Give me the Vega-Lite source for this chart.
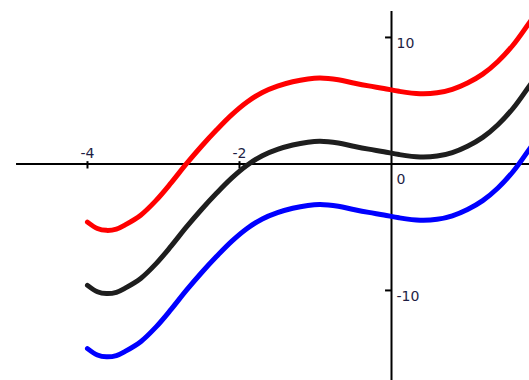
{
  "$schema": "https://vega.github.io/schema/vega-lite/v6.json",
  "width": 529,
  "height": 380,
  "padding": 0,
  "autosize": {"type": "none"},
  "background": "white",
  "config": {"view": {"stroke": null}},
  "datasets": {
    "axes": [
      {"x": -4.94, "x2": 1.85, "y": 0, "y2": 0},
      {"x": 0, "x2": 0, "y": -17.2, "y2": 12.1},
      {"x": -4, "x2": -4, "y": -0.36, "y2": 0.22},
      {"x": -2, "x2": -2, "y": -0.36, "y2": 0.22},
      {"x": -0.085, "x2": 0, "y": 10, "y2": 10},
      {"x": -0.085, "x2": 0, "y": -10, "y2": -10}
    ],
    "xlabels": [
      {"x": -4, "y": 0, "label": "-4"},
      {"x": -2, "y": 0, "label": "-2"}
    ],
    "ylabels": [
      {"x": 0, "y": 10, "label": "10"},
      {"x": 0, "y": -10, "label": "-10"}
    ],
    "zlabel": [
      {"x": 0, "y": 0, "label": "0"}
    ],
    "curves": [
      {"series": "black", "x": -4.0, "y": -9.6},
      {"series": "black", "x": -3.87, "y": -10.1},
      {"series": "black", "x": -3.75, "y": -10.25},
      {"series": "black", "x": -3.62, "y": -10.15},
      {"series": "black", "x": -3.5, "y": -9.8},
      {"series": "black", "x": -3.3, "y": -9.05},
      {"series": "black", "x": -3.1, "y": -7.9},
      {"series": "black", "x": -2.9, "y": -6.5},
      {"series": "black", "x": -2.7, "y": -5.0},
      {"series": "black", "x": -2.5, "y": -3.6},
      {"series": "black", "x": -2.3, "y": -2.3},
      {"series": "black", "x": -2.1, "y": -1.1},
      {"series": "black", "x": -1.9, "y": -0.1},
      {"series": "black", "x": -1.7, "y": 0.65},
      {"series": "black", "x": -1.5, "y": 1.15},
      {"series": "black", "x": -1.3, "y": 1.5},
      {"series": "black", "x": -1.1, "y": 1.72},
      {"series": "black", "x": -0.94, "y": 1.79},
      {"series": "black", "x": -0.7, "y": 1.65},
      {"series": "black", "x": -0.5, "y": 1.4},
      {"series": "black", "x": -0.3, "y": 1.17},
      {"series": "black", "x": -0.1, "y": 0.97},
      {"series": "black", "x": 0.1, "y": 0.74},
      {"series": "black", "x": 0.375, "y": 0.55},
      {"series": "black", "x": 0.6, "y": 0.62},
      {"series": "black", "x": 0.8, "y": 0.9},
      {"series": "black", "x": 1.0, "y": 1.4},
      {"series": "black", "x": 1.2, "y": 2.1},
      {"series": "black", "x": 1.4, "y": 3.1},
      {"series": "black", "x": 1.6, "y": 4.4},
      {"series": "black", "x": 1.8, "y": 6.05},
      {"series": "black", "x": 1.9, "y": 6.9},
      {"series": "red", "x": -4.0, "y": -4.6},
      {"series": "red", "x": -3.87, "y": -5.1},
      {"series": "red", "x": -3.75, "y": -5.25},
      {"series": "red", "x": -3.62, "y": -5.15},
      {"series": "red", "x": -3.5, "y": -4.8},
      {"series": "red", "x": -3.3, "y": -4.05},
      {"series": "red", "x": -3.1, "y": -2.9},
      {"series": "red", "x": -2.9, "y": -1.5},
      {"series": "red", "x": -2.7, "y": 0.0},
      {"series": "red", "x": -2.5, "y": 1.4},
      {"series": "red", "x": -2.3, "y": 2.7},
      {"series": "red", "x": -2.1, "y": 3.9},
      {"series": "red", "x": -1.9, "y": 4.9},
      {"series": "red", "x": -1.7, "y": 5.65},
      {"series": "red", "x": -1.5, "y": 6.15},
      {"series": "red", "x": -1.3, "y": 6.5},
      {"series": "red", "x": -1.1, "y": 6.72},
      {"series": "red", "x": -0.94, "y": 6.79},
      {"series": "red", "x": -0.7, "y": 6.65},
      {"series": "red", "x": -0.5, "y": 6.4},
      {"series": "red", "x": -0.3, "y": 6.17},
      {"series": "red", "x": -0.1, "y": 5.97},
      {"series": "red", "x": 0.1, "y": 5.74},
      {"series": "red", "x": 0.375, "y": 5.55},
      {"series": "red", "x": 0.6, "y": 5.62},
      {"series": "red", "x": 0.8, "y": 5.9},
      {"series": "red", "x": 1.0, "y": 6.4},
      {"series": "red", "x": 1.2, "y": 7.1},
      {"series": "red", "x": 1.4, "y": 8.1},
      {"series": "red", "x": 1.6, "y": 9.4},
      {"series": "red", "x": 1.8, "y": 11.05},
      {"series": "red", "x": 1.9, "y": 11.9},
      {"series": "blue", "x": -4.0, "y": -14.6},
      {"series": "blue", "x": -3.87, "y": -15.1},
      {"series": "blue", "x": -3.75, "y": -15.25},
      {"series": "blue", "x": -3.62, "y": -15.15},
      {"series": "blue", "x": -3.5, "y": -14.8},
      {"series": "blue", "x": -3.3, "y": -14.05},
      {"series": "blue", "x": -3.1, "y": -12.9},
      {"series": "blue", "x": -2.9, "y": -11.5},
      {"series": "blue", "x": -2.7, "y": -10.0},
      {"series": "blue", "x": -2.5, "y": -8.6},
      {"series": "blue", "x": -2.3, "y": -7.3},
      {"series": "blue", "x": -2.1, "y": -6.1},
      {"series": "blue", "x": -1.9, "y": -5.1},
      {"series": "blue", "x": -1.7, "y": -4.35},
      {"series": "blue", "x": -1.5, "y": -3.85},
      {"series": "blue", "x": -1.3, "y": -3.5},
      {"series": "blue", "x": -1.1, "y": -3.28},
      {"series": "blue", "x": -0.94, "y": -3.21},
      {"series": "blue", "x": -0.7, "y": -3.35},
      {"series": "blue", "x": -0.5, "y": -3.6},
      {"series": "blue", "x": -0.3, "y": -3.83},
      {"series": "blue", "x": -0.1, "y": -4.03},
      {"series": "blue", "x": 0.1, "y": -4.26},
      {"series": "blue", "x": 0.375, "y": -4.45},
      {"series": "blue", "x": 0.6, "y": -4.38},
      {"series": "blue", "x": 0.8, "y": -4.1},
      {"series": "blue", "x": 1.0, "y": -3.6},
      {"series": "blue", "x": 1.2, "y": -2.9},
      {"series": "blue", "x": 1.4, "y": -1.9},
      {"series": "blue", "x": 1.6, "y": -0.6},
      {"series": "blue", "x": 1.8, "y": 1.05},
      {"series": "blue", "x": 1.9, "y": 1.9}
    ]
  },
  "layer": [
    {
      "data": {"name": "axes"},
      "mark": {"type": "rule", "stroke": "#000000", "strokeWidth": 2, "clip": true},
      "encoding": {
        "x": {"field": "x", "type": "quantitative", "scale": {"domain": [-5.151, 1.809], "nice": false, "zero": false}, "axis": null},
        "x2": {"field": "x2"},
        "y": {"field": "y", "type": "quantitative", "scale": {"domain": [-17.08, 12.96], "nice": false, "zero": false}, "axis": null},
        "y2": {"field": "y2"}
      }
    },
    {
      "data": {"name": "curves"},
      "mark": {"type": "line", "strokeWidth": 5, "strokeCap": "round", "strokeJoin": "round", "interpolate": "catmull-rom", "clip": true},
      "encoding": {
        "x": {"field": "x", "type": "quantitative", "scale": {"domain": [-5.151, 1.809], "nice": false, "zero": false}, "axis": null},
        "y": {"field": "y", "type": "quantitative", "scale": {"domain": [-17.08, 12.96], "nice": false, "zero": false}, "axis": null},
        "color": {"field": "series", "type": "nominal", "scale": {"domain": ["red", "black", "blue"], "range": ["#ff0000", "#1e1e1e", "#0000ff"]}, "legend": null},
        "order": {"field": "x", "type": "quantitative"}
      }
    },
    {
      "data": {"name": "xlabels"},
      "mark": {"type": "text", "align": "center", "baseline": "alphabetic", "dy": -6, "font": "DejaVu Sans", "fontSize": 14, "fill": "#1e1e44"},
      "encoding": {
        "x": {"field": "x", "type": "quantitative", "scale": {"domain": [-5.151, 1.809], "nice": false, "zero": false}, "axis": null},
        "y": {"field": "y", "type": "quantitative", "scale": {"domain": [-17.08, 12.96], "nice": false, "zero": false}, "axis": null},
        "text": {"field": "label"}
      }
    },
    {
      "data": {"name": "ylabels"},
      "mark": {"type": "text", "align": "left", "baseline": "alphabetic", "dx": 5, "dy": 11, "font": "DejaVu Sans", "fontSize": 14, "fill": "#1e1e44"},
      "encoding": {
        "x": {"field": "x", "type": "quantitative", "scale": {"domain": [-5.151, 1.809], "nice": false, "zero": false}, "axis": null},
        "y": {"field": "y", "type": "quantitative", "scale": {"domain": [-17.08, 12.96], "nice": false, "zero": false}, "axis": null},
        "text": {"field": "label"}
      }
    },
    {
      "data": {"name": "zlabel"},
      "mark": {"type": "text", "align": "left", "baseline": "alphabetic", "dx": 5, "dy": 20, "font": "DejaVu Sans", "fontSize": 14, "fill": "#1e1e44"},
      "encoding": {
        "x": {"field": "x", "type": "quantitative", "scale": {"domain": [-5.151, 1.809], "nice": false, "zero": false}, "axis": null},
        "y": {"field": "y", "type": "quantitative", "scale": {"domain": [-17.08, 12.96], "nice": false, "zero": false}, "axis": null},
        "text": {"field": "label"}
      }
    }
  ]
}
